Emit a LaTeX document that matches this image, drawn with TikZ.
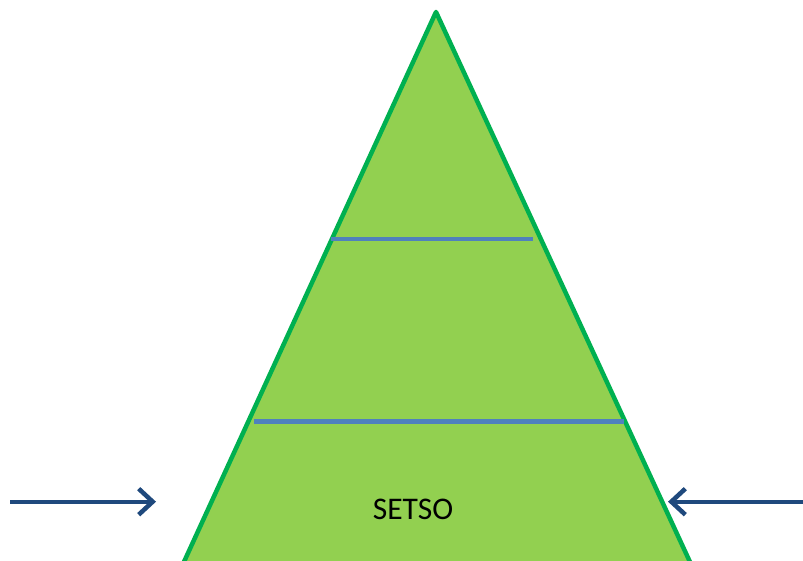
\documentclass[tikz,border=0pt]{standalone}
\usepackage{fontspec}
\setmainfont{Carlito}
\usetikzlibrary{arrows.meta}
\definecolor{fillgreen}{RGB}{146,208,80}
\definecolor{edgegreen}{RGB}{0,176,80}
\definecolor{levelblue}{RGB}{79,129,189}
\definecolor{arrowblue}{RGB}{31,73,125}
\tikzset{
  pyramid/.style={fill=fillgreen,draw=edgegreen,line width=4.5pt,line join=round},
  level/.style={draw=levelblue,line width=4.5pt},
  pusharrow/.style={draw=arrowblue,line width=4.2pt,-{Straight Barb[length=14pt,width=26pt,line width=4.5pt]}},
  lbl/.style={font=\fontsize{31.5}{38}\selectfont,inner sep=0pt}
}
\begin{document}
\begin{tikzpicture}[x=1pt,y=-1pt]
\clip (0,0) rectangle (803,561);
\path[fill=white] (0,0) rectangle (803,561);
\coordinate (apex) at (436,12);
\coordinate (bl) at (172,588);
\coordinate (br) at (702,588);
\draw[pyramid] (apex) -- (bl) -- (br) -- cycle;
\coordinate (l1a) at (331,239);
\coordinate (l1b) at (533,239);
\coordinate (l2a) at (254,421.5);
\coordinate (l2b) at (624,421.5);
\draw[level] (l1a) -- (l1b);
\draw[level] (l2a) -- (l2b);
\node[lbl] (setso) at (413,509) {SETSO};
\coordinate (la) at (10,501.7);
\coordinate (lb) at (156,501.7);
\coordinate (ra) at (803,501.7);
\coordinate (rb) at (668,501.7);
\draw[pusharrow] (la) -- (lb);
\draw[pusharrow] (ra) -- (rb);
\end{tikzpicture}
\end{document}
